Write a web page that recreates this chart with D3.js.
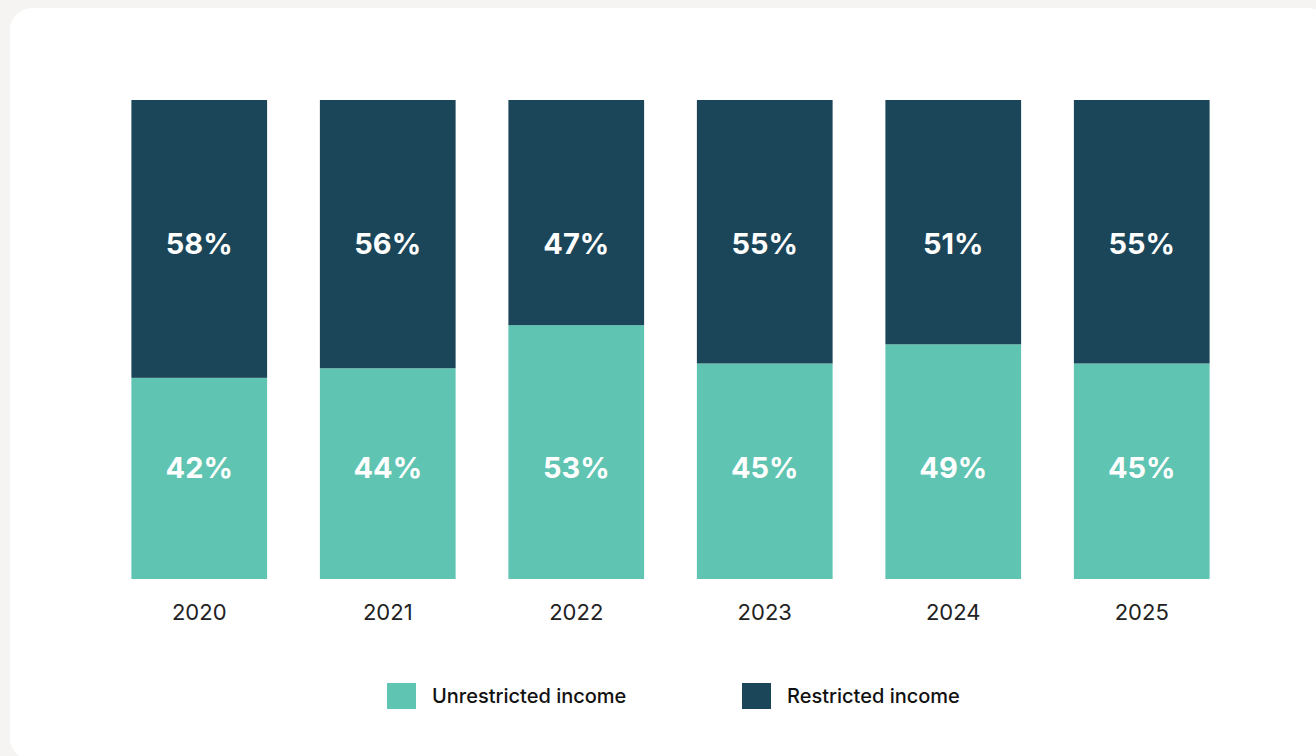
<!DOCTYPE html>
<html>
<head>
<meta charset="utf-8">
<script src="https://cdn.jsdelivr.net/npm/d3@7"></script>
<style>
  html, body { margin: 0; padding: 0; background: #f5f4f2; }
  svg { display: block; }
</style>
</head>
<body>
<svg id="chart" width="1316" height="756"></svg>
<script>
const years = ["2020", "2021", "2022", "2023", "2024", "2025"];
const unrestricted = [42, 44, 53, 45, 49, 45];
const restricted = [58, 56, 47, 55, 51, 55];
const seriesNames = ["Unrestricted income", "Restricted income"];
const seriesColors = ["#5fc4b2", "#1b4659"];

const svg = d3.select("#chart");
const FONT = "Inter, 'Open Sans', sans-serif";

// card
svg.append("rect").attr("x", 10).attr("y", 8).attr("width", 1320).attr("height", 752)
  .attr("rx", 22).attr("ry", 22).attr("fill", "#ffffff");

const x = d3.scaleBand().domain(years).range([105, 1236]).paddingInner(0.28).paddingOuter(0.14);
const y = d3.scaleLinear().domain([0, 100]).range([579, 100]);

const data = years.map((yr, i) => ({ year: yr, u: unrestricted[i], r: restricted[i] }));
const stack = d3.stack().keys(["u", "r"])(data);

const g = svg.append("g");
stack.forEach((layer, li) => {
  g.selectAll(null).data(layer).enter().append("rect")
    .attr("x", d => x(d.data.year))
    .attr("y", d => y(d[1]))
    .attr("width", x.bandwidth())
    .attr("height", d => y(d[0]) - y(d[1]))
    .attr("fill", seriesColors[li]);
});

// value labels (fixed vertical positions)
const labelY = { u: y(23.3), r: y(70) };
["u", "r"].forEach(k => {
  g.selectAll(null).data(data).enter().append("text")
    .attr("x", d => x(d.year) + x.bandwidth() / 2)
    .attr("y", labelY[k])
    .attr("text-anchor", "middle")
    .attr("dominant-baseline", "central")
    .attr("font-family", FONT)
    .attr("font-weight", 700)
    .attr("font-size", 29)
    .attr("fill", "#ffffff")
    .text(d => d[k] + "%");
});

// x axis
const xAxis = d3.axisBottom(x).tickSize(0).tickPadding(0);
const ax = svg.append("g").attr("transform", "translate(0,612)").call(xAxis);
ax.select(".domain").remove();
ax.selectAll("text")
  .attr("font-family", FONT)
  .attr("font-size", 22)
  .attr("fill", "#222222")
  .attr("dy", "0.35em")
  .attr("y", 0);

// legend
const legendX = [387, 742];
const leg = svg.append("g");
seriesNames.forEach((name, i) => {
  const lg = leg.append("g").attr("transform", `translate(${legendX[i]},683)`);
  lg.append("rect").attr("width", 29).attr("height", 26).attr("fill", seriesColors[i]);
  lg.append("text").attr("x", 45).attr("y", 13).attr("dominant-baseline", "central")
    .attr("font-family", FONT).attr("font-weight", 500).attr("font-size", 20)
    .attr("fill", "#111111").text(name);
});
</script>
</body>
</html>
